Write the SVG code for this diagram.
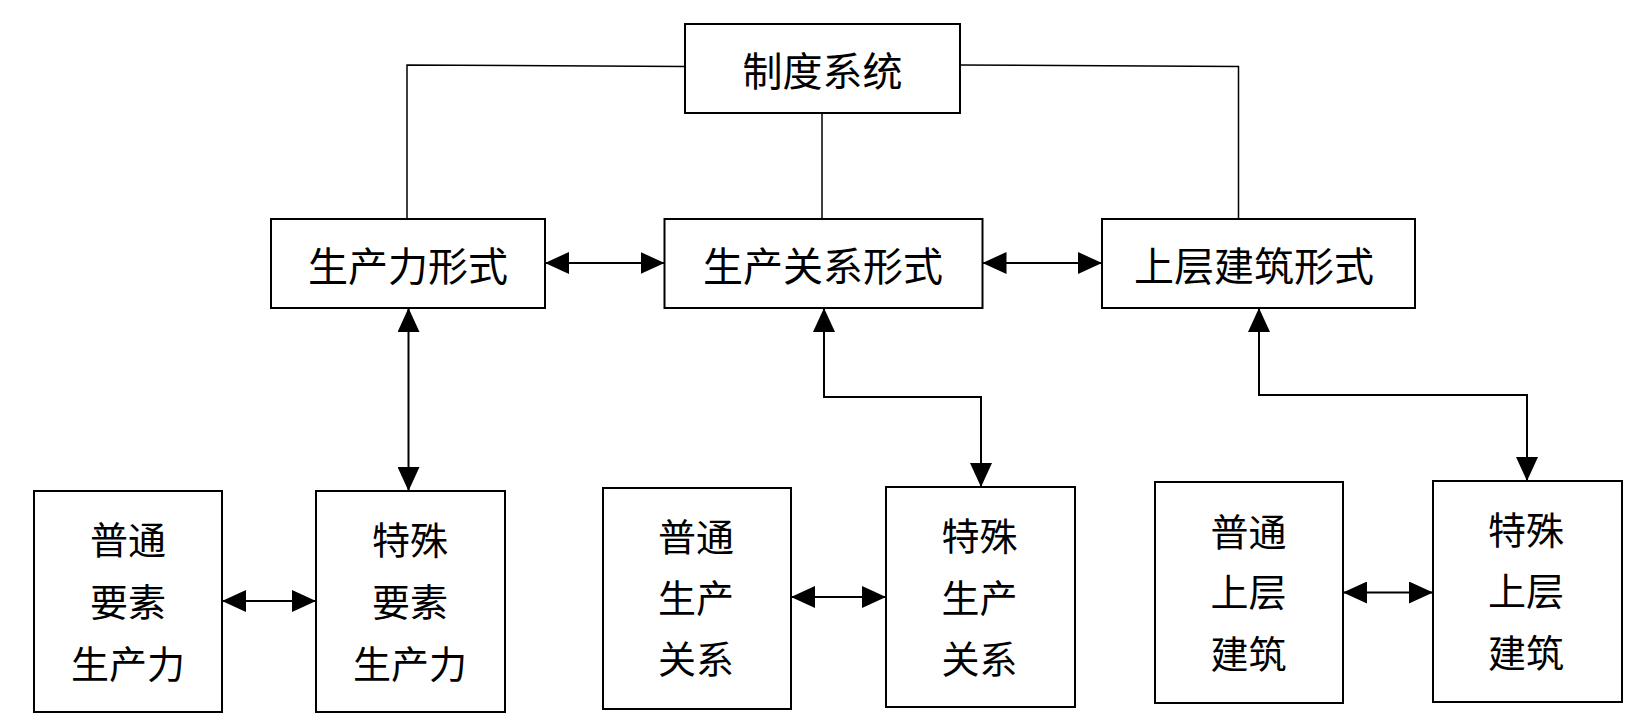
<svg xmlns="http://www.w3.org/2000/svg" width="1648" height="721" viewBox="0 0 1648 721">
<style>
  .box { fill: #ffffff; stroke: #000000; stroke-width: 2; }
  .t { font-family: "Noto Sans CJK SC", "Noto Sans CJK TC", sans-serif; fill: #000000; text-anchor: middle; dominant-baseline: central; }
  .t40 { font-size: 40px; }
  .t38 { font-size: 38px; }
  .line { fill: none; stroke: #000000; stroke-width: 1.5; }
  .arrow { fill: none; stroke: #000000; stroke-width: 2; marker-start: url(#ah); marker-end: url(#ah); }
</style>
<defs>
  <marker id="ah" viewBox="0 0 24 22" refX="24" refY="11" markerWidth="24" markerHeight="22" markerUnits="userSpaceOnUse" orient="auto-start-reverse">
    <path d="M0,0 L24,11 L0,22 z" fill="#000000"/>
  </marker>
</defs>
<rect x="0" y="0" width="1648" height="721" fill="#ffffff"/>

<g id="connectors">
  <path class="line" d="M685,66.5 L407,65 L407,219"/>
  <path class="line" d="M822,113 L822,219"/>
  <path class="line" d="M960,65 L1238.5,66.5 L1238.5,219"/>
  <path class="arrow" d="M545,263 L664.5,263"/>
  <path class="arrow" d="M982.5,263 L1102,263"/>
  <path class="arrow" d="M408.5,308 L408.5,491"/>
  <path class="arrow" d="M824,308 L824,397 L981,397 L981,487"/>
  <path class="arrow" d="M1259,308 L1259,395 L1527,395 L1527,481"/>
  <path class="arrow" d="M222,601 L316,601"/>
  <path class="arrow" d="M791,597 L886,597"/>
  <path class="arrow" d="M1343,592.5 L1433,592.5"/>
</g>

<g id="node-zhidu">
  <rect class="box" x="685" y="24" width="275" height="89"/>
  <text class="t t40" x="822.5" y="69">制度系统</text>
</g>
<g id="node-shengchanli">
  <rect class="box" x="271" y="219" width="274" height="89"/>
  <text class="t t40" x="408" y="264">生产力形式</text>
</g>
<g id="node-shengchanguanxi">
  <rect class="box" x="664.5" y="219" width="318" height="89"/>
  <text class="t t40" x="823" y="264">生产关系形式</text>
</g>
<g id="node-shangceng">
  <rect class="box" x="1102" y="219" width="313" height="89"/>
  <text class="t t40" x="1254" y="264">上层建筑形式</text>
</g>

<g id="node-putong-yaosu">
  <rect class="box" x="34" y="491" width="188" height="221"/>
  <text class="t t38" x="128" y="537">普通</text>
  <text class="t t38" x="128" y="599">要素</text>
  <text class="t t38" x="128" y="661">生产力</text>
</g>
<g id="node-teshu-yaosu">
  <rect class="box" x="316" y="491" width="189" height="221"/>
  <text class="t t38" x="410" y="537">特殊</text>
  <text class="t t38" x="410" y="599">要素</text>
  <text class="t t38" x="410" y="661">生产力</text>
</g>
<g id="node-putong-guanxi">
  <rect class="box" x="603" y="488" width="188" height="221"/>
  <text class="t t38" x="696" y="534">普通</text>
  <text class="t t38" x="696" y="595">生产</text>
  <text class="t t38" x="696" y="656">关系</text>
</g>
<g id="node-teshu-guanxi">
  <rect class="box" x="886" y="487" width="189" height="220"/>
  <text class="t t38" x="979.5" y="533">特殊</text>
  <text class="t t38" x="979.5" y="595">生产</text>
  <text class="t t38" x="979.5" y="656">关系</text>
</g>
<g id="node-putong-shangceng">
  <rect class="box" x="1155" y="482" width="188" height="221"/>
  <text class="t t38" x="1248.5" y="529">普通</text>
  <text class="t t38" x="1248.5" y="589">上层</text>
  <text class="t t38" x="1248.5" y="651">建筑</text>
</g>
<g id="node-teshu-shangceng">
  <rect class="box" x="1433" y="481" width="189" height="221"/>
  <text class="t t38" x="1526" y="527">特殊</text>
  <text class="t t38" x="1526" y="588">上层</text>
  <text class="t t38" x="1526" y="650">建筑</text>
</g>
</svg>
